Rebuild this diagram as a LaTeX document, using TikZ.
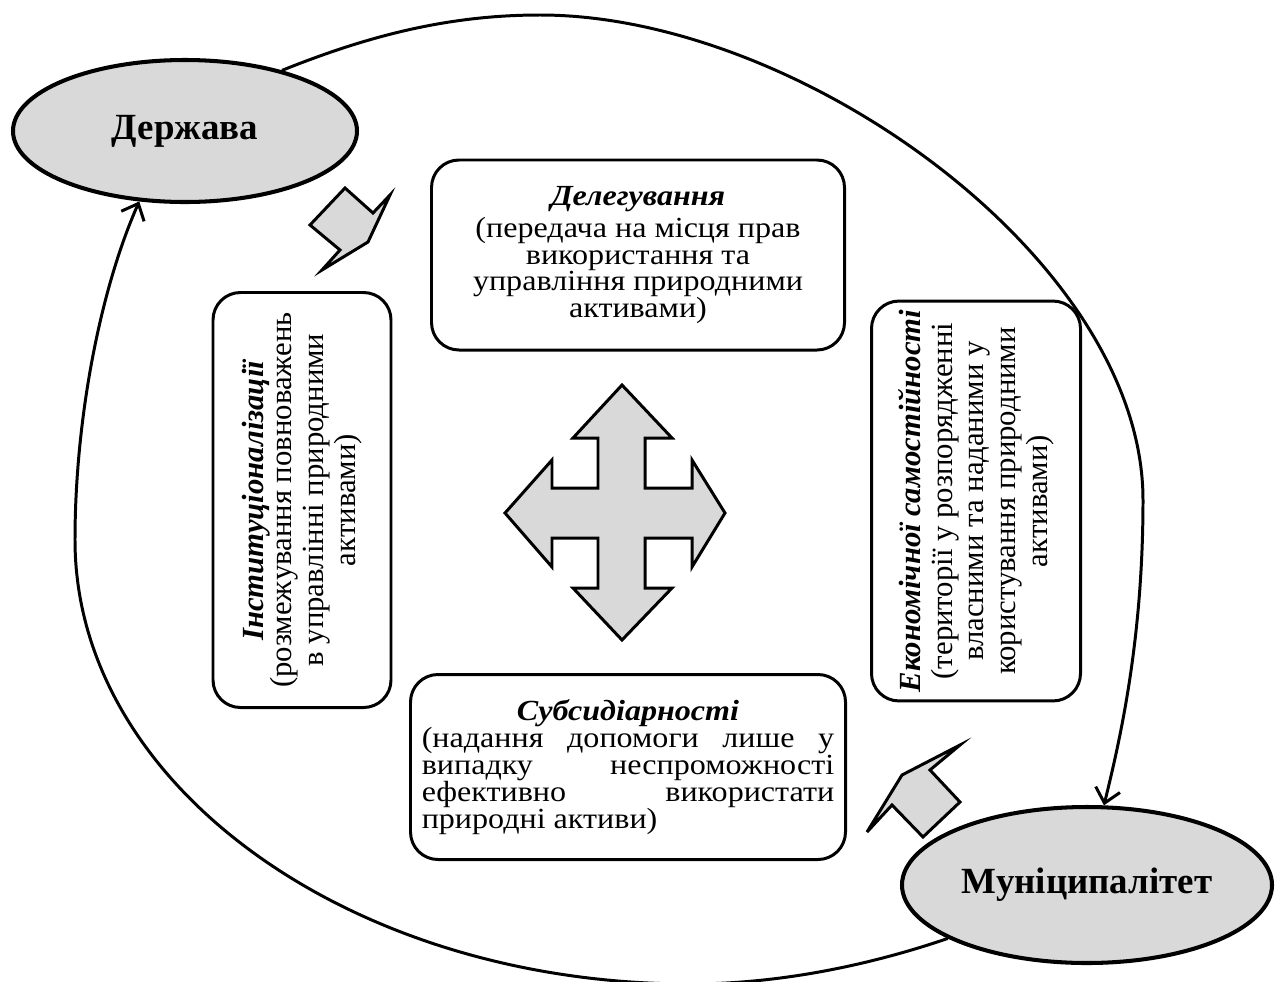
\documentclass[tikz,border=0pt]{standalone}
\usepackage{fontspec}
\setmainfont{Liberation Serif}
\usepackage{graphicx}
\usetikzlibrary{shapes.geometric,arrows.meta}
\definecolor{shade}{HTML}{D9D9D9}
% horizontal text is set slightly widened
\newcommand{\widen}[1]{\scalebox{1.1}[1]{#1}}
\newcommand{\bodyfont}{\fontsize{16.6}{15.3}\selectfont}
\newcommand{\sidefont}{\fontsize{17.5}{18}\selectfont}
\newcommand{\headword}[1]{\textbf{\textit{#1}}}
\begin{document}
\begin{tikzpicture}[x=0.02cm,y=-0.02cm,
  actor/.style={ellipse, draw, line width=2.3pt, fill=shade, inner sep=0pt,
                font=\fontsize{21}{25}\selectfont\bfseries},
  card/.style={draw, line width=1.7pt, rounded corners=0.55cm, inner sep=0pt},
  flow/.style={line width=1.7pt, -{Straight Barb[length=2.8mm,width=5mm]}},
  plate/.style={draw, line width=1.7pt, fill=shade, line join=miter},
]
\useasboundingbox (0,0) rectangle (1275,981);

% the two actors
\node[actor, minimum width={344*0.02cm}, minimum height={142*0.02cm}] (dz) at (185,131) {Держава};
\node[actor, minimum width={370*0.02cm}, minimum height={156*0.02cm}] (mn) at (1087,885) {Муніципалітет};

% principle cards
\node[card, minimum width={413*0.02cm}, minimum height={190*0.02cm}] (del) at (638,255)
  {\widen{\parbox{7cm}{\centering\bodyfont
   \headword{Делегування}\\[3pt]
   (передача на місця прав\\
   використання та\\
   управління природними\\
   активами)}}};

\node[card, minimum width={435*0.02cm}, minimum height={185*0.02cm}] (sub) at (628,767)
  {\widen{\parbox{7.5cm}{\bodyfont
   \centerline{\headword{Субсидіарності}}
   \makebox[\linewidth][s]{(надання допомоги лише у}\\
   \makebox[\linewidth][s]{випадку неспроможності}\\
   \makebox[\linewidth][s]{ефективно використати}\\
   природні активи)}}};

\node[card, rotate=90, minimum width={415*0.02cm}, minimum height={178*0.02cm}] (inst) at (302,500)
  {\parbox{8cm}{\centering\sidefont
   \headword{Інституціоналізації}\\[-2pt]
   (розмежування повноважень\\
   в управлінні природними\\
   активами)}};

\node[card, rotate=90, minimum width={392*0.02cm}, minimum height={209*0.02cm}] (eco) at (976,501)
  {\parbox{8cm}{\centering\sidefont
   \headword{Економічної самостійності}\\
   (території у розпорядженні\\
   власними та наданими у\\
   користування природними\\
   активами)}};

% four-way arrow in the middle
\draw[plate] (622,385) -- (672,438) -- (645,438) -- (645,488) -- (692,488) -- (692,460)
  -- (725,513) -- (692,567) -- (692,538) -- (645,538) -- (645,588) -- (672,588)
  -- (622,640) -- (573,588) -- (598,588) -- (598,538) -- (552,538) -- (552,567)
  -- (505,513) -- (552,460) -- (552,488) -- (598,488) -- (598,438) -- (573,438) -- cycle;

% small pointers
\draw[plate] (310,225) -- (345,188) -- (373,213) -- (390,195) -- (368,242) -- (322,270) -- (340,250) -- cycle;
\draw[plate] (960,745) -- (930,770) -- (960,802) -- (923,837) -- (892,805) -- (867,832) -- (902,775) -- cycle;

% the cycle between state and municipality
\draw[flow] (dz.32) .. controls (370,35) and (450,15) .. (540,15)
  .. controls (800,15) and (1143,260) .. (1143,500)
  .. controls (1143,640) and (1120,740) .. (mn.78);
\draw[flow] (mn.201) .. controls (870,965) and (780,984) .. (690,984)
  .. controls (350,984) and (75,785) .. (75,540)
  .. controls (75,420) and (100,290) .. (dz.237);
\end{tikzpicture}
\end{document}
